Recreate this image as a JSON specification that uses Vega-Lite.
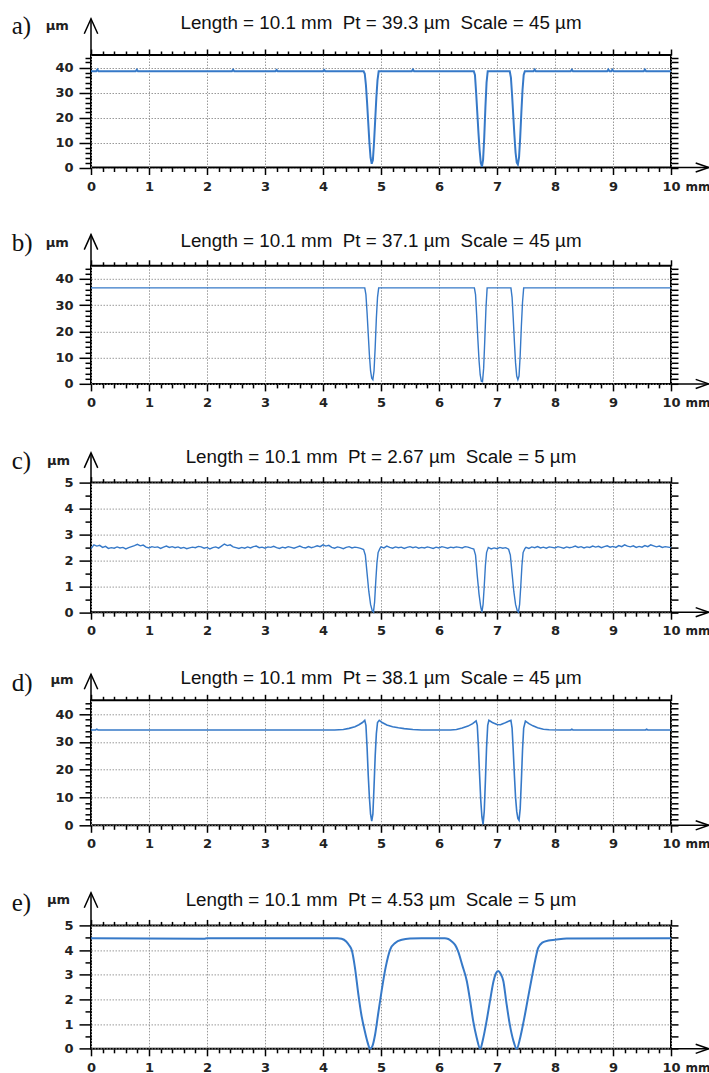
{
"$schema": "https://vega.github.io/schema/vega-lite/v6.json",
"padding": {"left": 10, "top": 12, "right": 0, "bottom": 0},
"autosize": {"type": "pad"},
"config": {
  "view": {"stroke": "#000", "strokeWidth": 2},
  "axis": {"domain": false, "labelFont": "DejaVu Sans", "labelFontWeight": "bold", "labelFontSize": 13, "labelColor": "#222", "tickColor": "#000", "tickWidth": 1.5, "gridColor": "#999", "gridDash": [1.5, 1.5], "gridWidth": 1, "labelOverlap": false, "labelFlush": false},
  "title": {"font": "Liberation Sans", "fontSize": 18.8, "fontWeight": "normal", "color": "#111", "anchor": "middle", "frame": "group"}
},
"datasets": {
  "a": [
    {"x":0,"y":38.5},{"x":0.09,"y":38.5},{"x":0.11,"y":39.2},{"x":0.13,"y":38.5},
    {"x":0.77,"y":38.5},{"x":0.79,"y":39.1},{"x":0.81,"y":38.5},
    {"x":2.43,"y":38.5},{"x":2.45,"y":39.1},{"x":2.47,"y":38.5},
    {"x":3.18,"y":38.5},{"x":3.2,"y":39.0},{"x":3.22,"y":38.5},
    {"x":4.0,"y":38.5},{"x":4.02,"y":39.0},{"x":4.04,"y":38.5},
    {"x":4.7,"y":38.5},{"x":4.72,"y":37.5},{"x":4.74,"y":33},{"x":4.76,"y":26},{"x":4.78,"y":18},{"x":4.8,"y":10},{"x":4.82,"y":4},{"x":4.84,"y":1.5},{"x":4.86,"y":3},{"x":4.88,"y":10},{"x":4.9,"y":19},{"x":4.92,"y":28},{"x":4.94,"y":35},{"x":4.96,"y":38.5},
    {"x":5.53,"y":38.5},{"x":5.55,"y":39.2},{"x":5.57,"y":38.5},
    {"x":6.6,"y":38.5},{"x":6.62,"y":37},{"x":6.64,"y":30},{"x":6.66,"y":22},{"x":6.68,"y":14},{"x":6.7,"y":7},{"x":6.72,"y":2},{"x":6.74,"y":0.3},{"x":6.76,"y":3},{"x":6.78,"y":12},{"x":6.8,"y":24},{"x":6.82,"y":34},{"x":6.84,"y":38.5},
    {"x":7.22,"y":38.5},{"x":7.24,"y":36},{"x":7.26,"y":29},{"x":7.28,"y":21},{"x":7.3,"y":13},{"x":7.32,"y":6},{"x":7.34,"y":2},{"x":7.36,"y":1.2},{"x":7.38,"y":4},{"x":7.4,"y":12},{"x":7.42,"y":22},{"x":7.44,"y":31},{"x":7.46,"y":37},{"x":7.48,"y":38.5},
    {"x":7.63,"y":38.5},{"x":7.65,"y":39.2},{"x":7.67,"y":38.5},
    {"x":8.27,"y":38.5},{"x":8.29,"y":39.1},{"x":8.31,"y":38.5},
    {"x":8.9,"y":38.5},{"x":8.92,"y":39.2},{"x":8.94,"y":38.5},{"x":8.97,"y":38.5},{"x":8.99,"y":39.1},{"x":9.01,"y":38.5},
    {"x":9.53,"y":38.5},{"x":9.55,"y":39.2},{"x":9.57,"y":38.5},
    {"x":10,"y":38.5}
  ],
  "b": [
    {"x":0,"y":36.6},{"x":4.72,"y":36.6},{"x":4.74,"y":34},{"x":4.76,"y":27},{"x":4.78,"y":19},{"x":4.8,"y":11},{"x":4.82,"y":5},{"x":4.84,"y":2.2},{"x":4.86,"y":1.6},{"x":4.88,"y":5},{"x":4.9,"y":14},{"x":4.92,"y":25},{"x":4.94,"y":33},{"x":4.96,"y":36.6},
    {"x":6.61,"y":36.6},{"x":6.63,"y":34},{"x":6.65,"y":26},{"x":6.67,"y":17},{"x":6.69,"y":9},{"x":6.71,"y":3.5},{"x":6.73,"y":1},{"x":6.75,"y":0.8},{"x":6.77,"y":6},{"x":6.79,"y":17},{"x":6.81,"y":29},{"x":6.83,"y":36.6},
    {"x":7.24,"y":36.6},{"x":7.26,"y":33},{"x":7.28,"y":25},{"x":7.3,"y":16},{"x":7.32,"y":8},{"x":7.34,"y":3},{"x":7.36,"y":1.6},{"x":7.38,"y":3},{"x":7.4,"y":11},{"x":7.42,"y":22},{"x":7.44,"y":31},{"x":7.46,"y":36.6},
    {"x":10,"y":36.6}
  ],
  "c": [
    {"x":0,"y":2.45},{"x":0.05,"y":2.6},{"x":0.1,"y":2.55},{"x":0.15,"y":2.58},{"x":0.2,"y":2.5},{"x":0.25,"y":2.54},{"x":0.3,"y":2.46},{"x":0.35,"y":2.49},{"x":0.4,"y":2.47},{"x":0.45,"y":2.52},
    {"x":0.5,"y":2.48},{"x":0.55,"y":2.5},{"x":0.6,"y":2.44},{"x":0.65,"y":2.49},{"x":0.7,"y":2.53},{"x":0.75,"y":2.57},{"x":0.8,"y":2.62},{"x":0.85,"y":2.56},{"x":0.9,"y":2.59},{"x":0.95,"y":2.51},
    {"x":1,"y":2.48},{"x":1.05,"y":2.53},{"x":1.1,"y":2.5},{"x":1.15,"y":2.52},{"x":1.2,"y":2.46},{"x":1.25,"y":2.51},{"x":1.3,"y":2.55},{"x":1.35,"y":2.5},{"x":1.4,"y":2.53},{"x":1.45,"y":2.49},
    {"x":1.5,"y":2.52},{"x":1.55,"y":2.47},{"x":1.6,"y":2.5},{"x":1.65,"y":2.45},{"x":1.7,"y":2.48},{"x":1.75,"y":2.51},{"x":1.8,"y":2.49},{"x":1.85,"y":2.54},{"x":1.9,"y":2.52},{"x":1.95,"y":2.47},
    {"x":2,"y":2.5},{"x":2.05,"y":2.44},{"x":2.1,"y":2.49},{"x":2.15,"y":2.52},{"x":2.2,"y":2.47},{"x":2.25,"y":2.55},{"x":2.3,"y":2.63},{"x":2.35,"y":2.57},{"x":2.4,"y":2.6},{"x":2.45,"y":2.52},
    {"x":2.5,"y":2.49},{"x":2.55,"y":2.46},{"x":2.6,"y":2.5},{"x":2.65,"y":2.47},{"x":2.7,"y":2.52},{"x":2.75,"y":2.48},{"x":2.8,"y":2.53},{"x":2.85,"y":2.55},{"x":2.9,"y":2.49},{"x":2.95,"y":2.51},
    {"x":3,"y":2.47},{"x":3.05,"y":2.52},{"x":3.1,"y":2.5},{"x":3.15,"y":2.54},{"x":3.2,"y":2.49},{"x":3.25,"y":2.46},{"x":3.3,"y":2.51},{"x":3.35,"y":2.48},{"x":3.4,"y":2.53},{"x":3.45,"y":2.5},
    {"x":3.5,"y":2.47},{"x":3.55,"y":2.51},{"x":3.6,"y":2.55},{"x":3.65,"y":2.5},{"x":3.7,"y":2.48},{"x":3.75,"y":2.53},{"x":3.8,"y":2.49},{"x":3.85,"y":2.52},{"x":3.9,"y":2.56},{"x":3.95,"y":2.53},
    {"x":4,"y":2.6},{"x":4.05,"y":2.55},{"x":4.1,"y":2.58},{"x":4.15,"y":2.5},{"x":4.2,"y":2.47},{"x":4.25,"y":2.52},{"x":4.3,"y":2.49},{"x":4.35,"y":2.45},{"x":4.4,"y":2.5},{"x":4.45,"y":2.53},
    {"x":4.5,"y":2.48},{"x":4.55,"y":2.51},{"x":4.6,"y":2.49},{"x":4.65,"y":2.46},{"x":4.7,"y":2.42},
    {"x":4.73,"y":2.2},{"x":4.76,"y":1.5},{"x":4.79,"y":0.8},{"x":4.82,"y":0.3},{"x":4.85,"y":0.05},{"x":4.87,"y":0},{"x":4.89,"y":0.4},{"x":4.91,"y":1.2},{"x":4.93,"y":1.9},{"x":4.95,"y":2.3},{"x":4.98,"y":2.45},
    {"x":5,"y":2.52},{"x":5.05,"y":2.48},{"x":5.1,"y":2.55},{"x":5.15,"y":2.5},{"x":5.2,"y":2.47},{"x":5.25,"y":2.52},{"x":5.3,"y":2.49},{"x":5.35,"y":2.51},{"x":5.4,"y":2.46},{"x":5.45,"y":2.5},
    {"x":5.5,"y":2.53},{"x":5.55,"y":2.49},{"x":5.6,"y":2.52},{"x":5.65,"y":2.47},{"x":5.7,"y":2.5},{"x":5.75,"y":2.48},{"x":5.8,"y":2.52},{"x":5.85,"y":2.49},{"x":5.9,"y":2.46},{"x":5.95,"y":2.51},
    {"x":6,"y":2.48},{"x":6.05,"y":2.53},{"x":6.1,"y":2.5},{"x":6.15,"y":2.47},{"x":6.2,"y":2.51},{"x":6.25,"y":2.49},{"x":6.3,"y":2.52},{"x":6.35,"y":2.5},{"x":6.4,"y":2.48},{"x":6.45,"y":2.53},
    {"x":6.5,"y":2.51},{"x":6.55,"y":2.47},{"x":6.6,"y":2.44},
    {"x":6.63,"y":2.2},{"x":6.66,"y":1.4},{"x":6.69,"y":0.7},{"x":6.72,"y":0.2},{"x":6.74,"y":0},{"x":6.76,"y":0.3},{"x":6.78,"y":1},{"x":6.8,"y":1.8},{"x":6.82,"y":2.3},{"x":6.85,"y":2.5},
    {"x":6.9,"y":2.44},{"x":6.95,"y":2.48},{"x":7,"y":2.45},{"x":7.05,"y":2.5},{"x":7.1,"y":2.47},{"x":7.15,"y":2.49},{"x":7.2,"y":2.43},
    {"x":7.23,"y":2.2},{"x":7.26,"y":1.5},{"x":7.29,"y":0.8},{"x":7.32,"y":0.3},{"x":7.35,"y":0.05},{"x":7.37,"y":0},{"x":7.39,"y":0.3},{"x":7.41,"y":1},{"x":7.43,"y":1.8},{"x":7.45,"y":2.3},{"x":7.48,"y":2.45},
    {"x":7.5,"y":2.5},{"x":7.55,"y":2.46},{"x":7.6,"y":2.52},{"x":7.65,"y":2.49},{"x":7.7,"y":2.53},{"x":7.75,"y":2.48},{"x":7.8,"y":2.51},{"x":7.85,"y":2.47},{"x":7.9,"y":2.52},{"x":7.95,"y":2.5},
    {"x":8,"y":2.48},{"x":8.05,"y":2.53},{"x":8.1,"y":2.5},{"x":8.15,"y":2.47},{"x":8.2,"y":2.52},{"x":8.25,"y":2.49},{"x":8.3,"y":2.51},{"x":8.35,"y":2.55},{"x":8.4,"y":2.5},{"x":8.45,"y":2.53},
    {"x":8.5,"y":2.48},{"x":8.55,"y":2.52},{"x":8.6,"y":2.5},{"x":8.65,"y":2.55},{"x":8.7,"y":2.51},{"x":8.75,"y":2.54},{"x":8.8,"y":2.49},{"x":8.85,"y":2.53},{"x":8.9,"y":2.56},{"x":8.95,"y":2.51},
    {"x":9,"y":2.54},{"x":9.05,"y":2.5},{"x":9.1,"y":2.57},{"x":9.15,"y":2.53},{"x":9.2,"y":2.6},{"x":9.25,"y":2.55},{"x":9.3,"y":2.52},{"x":9.35,"y":2.56},{"x":9.4,"y":2.5},{"x":9.45,"y":2.54},
    {"x":9.5,"y":2.51},{"x":9.55,"y":2.57},{"x":9.6,"y":2.53},{"x":9.65,"y":2.6},{"x":9.7,"y":2.56},{"x":9.75,"y":2.52},{"x":9.8,"y":2.55},{"x":9.85,"y":2.5},{"x":9.9,"y":2.53},{"x":9.95,"y":2.51},{"x":10,"y":2.49}
  ],
  "d": [
    {"x":0,"y":34.3},{"x":0.08,"y":34.3},{"x":0.1,"y":34.6},{"x":0.12,"y":34.3},{"x":4.2,"y":34.3},{"x":4.35,"y":34.5},{"x":4.45,"y":34.9},{"x":4.55,"y":35.5},{"x":4.62,"y":36.2},{"x":4.68,"y":37},{"x":4.72,"y":37.8},
    {"x":4.74,"y":36},{"x":4.76,"y":28},{"x":4.78,"y":18},{"x":4.8,"y":10},{"x":4.82,"y":4},{"x":4.84,"y":1.5},{"x":4.86,"y":4},{"x":4.88,"y":14},{"x":4.9,"y":25},{"x":4.92,"y":33},{"x":4.94,"y":37},{"x":4.97,"y":37.8},
    {"x":5.02,"y":37},{"x":5.1,"y":36.1},{"x":5.2,"y":35.5},{"x":5.3,"y":35.1},{"x":5.4,"y":34.8},{"x":5.55,"y":34.5},{"x":5.7,"y":34.3},{"x":6.2,"y":34.3},{"x":6.3,"y":34.5},{"x":6.4,"y":35},{"x":6.5,"y":35.7},{"x":6.58,"y":36.6},{"x":6.64,"y":37.6},
    {"x":6.66,"y":36},{"x":6.68,"y":28},{"x":6.7,"y":18},{"x":6.72,"y":9},{"x":6.74,"y":3},{"x":6.76,"y":0.3},{"x":6.78,"y":5},{"x":6.8,"y":16},{"x":6.82,"y":28},{"x":6.84,"y":36},{"x":6.86,"y":37.8},
    {"x":6.92,"y":37},{"x":7,"y":36.3},{"x":7.06,"y":36.2},{"x":7.12,"y":36.7},{"x":7.18,"y":37.3},{"x":7.24,"y":37.8},
    {"x":7.26,"y":35},{"x":7.28,"y":27},{"x":7.3,"y":18},{"x":7.32,"y":10},{"x":7.34,"y":5},{"x":7.36,"y":2.5},{"x":7.38,"y":1.8},{"x":7.4,"y":6},{"x":7.42,"y":16},{"x":7.44,"y":27},{"x":7.46,"y":35},{"x":7.49,"y":37.5},
    {"x":7.55,"y":36.6},{"x":7.62,"y":35.8},{"x":7.7,"y":35.1},{"x":7.8,"y":34.6},{"x":7.9,"y":34.4},{"x":8.1,"y":34.3},{"x":8.27,"y":34.3},{"x":8.29,"y":34.6},{"x":8.31,"y":34.3},{"x":9.56,"y":34.3},{"x":9.58,"y":34.6},{"x":9.6,"y":34.3},{"x":10,"y":34.3}
  ],
  "e": [
    {"x":0,"y":4.48},{"x":1.95,"y":4.46},{"x":2.0,"y":4.48},{"x":4.25,"y":4.48},{"x":4.32,"y":4.46},{"x":4.4,"y":4.35},{"x":4.45,"y":4.2},{"x":4.5,"y":3.96},{"x":4.55,"y":3.3},{"x":4.61,"y":2.2},{"x":4.66,"y":1.4},{"x":4.72,"y":0.72},{"x":4.77,"y":0.25},{"x":4.81,"y":0},
    {"x":4.85,"y":0.1},{"x":4.9,"y":0.6},{"x":4.95,"y":1.4},{"x":5.01,"y":2.34},{"x":5.08,"y":3.3},{"x":5.16,"y":4.03},{"x":5.25,"y":4.3},{"x":5.36,"y":4.42},{"x":5.5,"y":4.47},{"x":5.7,"y":4.48},
    {"x":6.1,"y":4.48},{"x":6.16,"y":4.45},{"x":6.22,"y":4.35},{"x":6.28,"y":4.2},{"x":6.33,"y":3.95},{"x":6.4,"y":3.4},{"x":6.48,"y":2.74},{"x":6.54,"y":1.9},{"x":6.59,"y":1.12},{"x":6.65,"y":0.45},{"x":6.71,"y":0},
    {"x":6.76,"y":0.4},{"x":6.82,"y":1.12},{"x":6.88,"y":1.95},{"x":6.94,"y":2.74},{"x":6.98,"y":3.05},{"x":7.02,"y":3.15},{"x":7.06,"y":3.05},{"x":7.11,"y":2.74},{"x":7.16,"y":1.9},{"x":7.22,"y":0.99},{"x":7.28,"y":0.35},{"x":7.34,"y":0},
    {"x":7.4,"y":0.45},{"x":7.46,"y":1.12},{"x":7.53,"y":2},{"x":7.6,"y":2.88},{"x":7.66,"y":3.6},{"x":7.71,"y":4.09},{"x":7.78,"y":4.3},{"x":7.89,"y":4.39},{"x":8,"y":4.42},{"x":8.2,"y":4.47},{"x":10,"y":4.48}
  ]
},
"spacing": 35.8,
"vconcat": [
{
"width": 580, "height": 112.5,
"title": {"text": "Length = 10.1 mm\u00a0 Pt = 39.3 \u00b5m\u00a0 Scale = 45 \u00b5m", "offset": -19.3},
"resolve": {"axis": {"x": "independent", "y": "independent"}},
"layer": [
 {"data": {"name": "a"}, "mark": {"type": "line", "color": "#3679c8", "strokeWidth": 2},
  "encoding": {
   "x": {"field": "x", "type": "quantitative", "scale": {"domain": [0, 10], "nice": false}, "axis": {"orient": "bottom", "values": [0,0.2,0.4,0.6,0.8,1,1.2,1.4,1.6,1.8,2,2.2,2.4,2.6,2.8,3,3.2,3.4,3.6,3.8,4,4.2,4.4,4.6,4.8,5,5.2,5.4,5.6,5.8,6,6.2,6.4,6.6,6.8,7,7.2,7.4,7.6,7.8,8,8.2,8.4,8.6,8.8,9,9.2,9.4,9.6,9.8,10], "tickSize": {"condition": {"test": "abs(datum.value-round(datum.value))<0.01", "value": 7}, "value": 4}, "labelExpr": "abs(datum.value-round(datum.value))<0.01 ? format(datum.value,'.0f') : ''", "labelPadding": 5.5, "grid": true, "gridOpacity": {"condition": {"test": "abs(datum.value-round(datum.value))<0.01", "value": 1}, "value": 0}, "title": "mm", "titleX": 594, "titleY": 13.5, "titleAlign": "left", "titleBaseline": "top", "titleFont": "DejaVu Sans", "titleFontWeight": "bold", "titleFontSize": 12, "titleColor": "#222"}},
   "y": {"field": "y", "type": "quantitative", "scale": {"domain": [0, 45], "nice": false}, "axis": {"orient": "left", "values": [0,2,4,6,8,10,12,14,16,18,20,22,24,26,28,30,32,34,36,38,40,42,44], "tickSize": {"condition": {"test": "datum.value % 10 === 0", "value": 12}, "value": 6}, "labelExpr": "datum.value % 10 === 0 ? format(datum.value,'.0f') : ''", "labelPadding": 6, "grid": true, "gridOpacity": {"condition": {"test": "datum.value % 10 === 0", "value": 1}, "value": 0}, "title": null}}
  }},
 {"data": {"values": [{}]}, "mark": {"type": "rule", "color": "#000", "strokeWidth": 1.5},
  "encoding": {
   "x": {"datum": 0, "type": "quantitative", "scale": {"domain": [0, 10], "nice": false}, "axis": {"orient": "top", "values": [0,0.2,0.4,0.6,0.8,1,1.2,1.4,1.6,1.8,2,2.2,2.4,2.6,2.8,3,3.2,3.4,3.6,3.8,4,4.2,4.4,4.6,4.8,5,5.2,5.4,5.6,5.8,6,6.2,6.4,6.6,6.8,7,7.2,7.4,7.6,7.8,8,8.2,8.4,8.6,8.8,9,9.2,9.4,9.6,9.8,10], "tickSize": {"condition": {"test": "abs(datum.value-round(datum.value))<0.01", "value": 6}, "value": 4}, "labels": false, "grid": false, "title": null}},
   "y": {"datum": 45, "type": "quantitative", "scale": {"domain": [0, 45], "nice": false}, "axis": {"orient": "right", "values": [0,2,4,6,8,10,12,14,16,18,20,22,24,26,28,30,32,34,36,38,40,42,44], "tickSize": 7, "labels": false, "grid": false, "title": null}},
   "y2": {"datum": 59.48}
  }},
 {"data": {"values": [{}]}, "mark": {"type": "point", "shape": "M-0.45,1L0,0L0.45,1", "size": 900, "filled": false, "color": "#000", "strokeWidth": 1.5, "opacity": 1},
  "encoding": {"x": {"datum": 0, "type": "quantitative", "scale": {"domain": [0, 10], "nice": false}, "axis": null}, "y": {"datum": 59.48, "type": "quantitative", "scale": {"domain": [0, 45], "nice": false}, "axis": null}}},
 {"data": {"values": [{}]}, "mark": {"type": "rule", "color": "#000", "strokeWidth": 1.5},
  "encoding": {"x": {"datum": 10, "type": "quantitative", "scale": {"domain": [0, 10], "nice": false}, "axis": null}, "x2": {"datum": 10.65}, "y": {"datum": 0, "type": "quantitative", "scale": {"domain": [0, 45], "nice": false}, "axis": null}}},
 {"data": {"values": [{}]}, "mark": {"type": "point", "shape": "M-1,-0.35L0,0L-1,0.35", "size": 676, "filled": false, "color": "#000", "strokeWidth": 1.5, "opacity": 1},
  "encoding": {"x": {"datum": 10.65, "type": "quantitative", "scale": {"domain": [0, 10], "nice": false}, "axis": null}, "y": {"datum": 0, "type": "quantitative", "scale": {"domain": [0, 45], "nice": false}, "axis": null}}},
 {"data": {"values": [{"unit": "\u00b5m"}]}, "mark": {"type": "text", "font": "DejaVu Sans", "fontWeight": "bold", "fontSize": 13, "color": "#222", "align": "center", "baseline": "middle"},
  "encoding": {"text": {"field": "unit"}, "x": {"datum": -0.58, "type": "quantitative", "scale": {"domain": [0, 10], "nice": false}, "axis": null}, "y": {"datum": 56.68, "type": "quantitative", "scale": {"domain": [0, 45], "nice": false}, "axis": null}}},
 {"data": {"values": [{"panel": "a)"}]}, "mark": {"type": "text", "font": "Liberation Serif", "fontSize": 25, "color": "#111", "align": "left", "baseline": "alphabetic"},
  "encoding": {"text": {"field": "panel"}, "x": {"datum": -1.367, "type": "quantitative", "scale": {"domain": [0, 10], "nice": false}, "axis": null}, "y": {"datum": 53.48, "type": "quantitative", "scale": {"domain": [0, 45], "nice": false}, "axis": null}}}
]
},
{
"width": 580, "height": 118.1,
"title": {"text": "Length = 10.1 mm\u00a0 Pt = 37.1 \u00b5m\u00a0 Scale = 45 \u00b5m", "offset": -19.2},
"resolve": {"axis": {"x": "independent", "y": "independent"}},
"layer": [
 {"data": {"name": "b"}, "mark": {"type": "line", "color": "#3679c8", "strokeWidth": 1.4},
  "encoding": {
   "x": {"field": "x", "type": "quantitative", "scale": {"domain": [0, 10], "nice": false}, "axis": {"orient": "bottom", "values": [0,0.2,0.4,0.6,0.8,1,1.2,1.4,1.6,1.8,2,2.2,2.4,2.6,2.8,3,3.2,3.4,3.6,3.8,4,4.2,4.4,4.6,4.8,5,5.2,5.4,5.6,5.8,6,6.2,6.4,6.6,6.8,7,7.2,7.4,7.6,7.8,8,8.2,8.4,8.6,8.8,9,9.2,9.4,9.6,9.8,10], "tickSize": {"condition": {"test": "abs(datum.value-round(datum.value))<0.01", "value": 7}, "value": 4}, "labelExpr": "abs(datum.value-round(datum.value))<0.01 ? format(datum.value,'.0f') : ''", "labelPadding": 5.5, "grid": true, "gridOpacity": {"condition": {"test": "abs(datum.value-round(datum.value))<0.01", "value": 1}, "value": 0}, "title": "mm", "titleX": 594, "titleY": 13.5, "titleAlign": "left", "titleBaseline": "top", "titleFont": "DejaVu Sans", "titleFontWeight": "bold", "titleFontSize": 12, "titleColor": "#222"}},
   "y": {"field": "y", "type": "quantitative", "scale": {"domain": [0, 45], "nice": false}, "axis": {"orient": "left", "values": [0,2,4,6,8,10,12,14,16,18,20,22,24,26,28,30,32,34,36,38,40,42,44], "tickSize": {"condition": {"test": "datum.value % 10 === 0", "value": 12}, "value": 6}, "labelExpr": "datum.value % 10 === 0 ? format(datum.value,'.0f') : ''", "labelPadding": 6, "grid": true, "gridOpacity": {"condition": {"test": "datum.value % 10 === 0", "value": 1}, "value": 0}, "title": null}}
  }},
 {"data": {"values": [{}]}, "mark": {"type": "rule", "color": "#000", "strokeWidth": 1.5},
  "encoding": {
   "x": {"datum": 0, "type": "quantitative", "scale": {"domain": [0, 10], "nice": false}, "axis": {"orient": "top", "values": [0,0.2,0.4,0.6,0.8,1,1.2,1.4,1.6,1.8,2,2.2,2.4,2.6,2.8,3,3.2,3.4,3.6,3.8,4,4.2,4.4,4.6,4.8,5,5.2,5.4,5.6,5.8,6,6.2,6.4,6.6,6.8,7,7.2,7.4,7.6,7.8,8,8.2,8.4,8.6,8.8,9,9.2,9.4,9.6,9.8,10], "tickSize": {"condition": {"test": "abs(datum.value-round(datum.value))<0.01", "value": 6}, "value": 4}, "labels": false, "grid": false, "title": null}},
   "y": {"datum": 45, "type": "quantitative", "scale": {"domain": [0, 45], "nice": false}, "axis": {"orient": "right", "values": [0,2,4,6,8,10,12,14,16,18,20,22,24,26,28,30,32,34,36,38,40,42,44], "tickSize": 7, "labels": false, "grid": false, "title": null}},
   "y2": {"datum": 56.89}
  }},
 {"data": {"values": [{}]}, "mark": {"type": "point", "shape": "M-0.45,1L0,0L0.45,1", "size": 900, "filled": false, "color": "#000", "strokeWidth": 1.5, "opacity": 1},
  "encoding": {"x": {"datum": 0, "type": "quantitative", "scale": {"domain": [0, 10], "nice": false}, "axis": null}, "y": {"datum": 56.89, "type": "quantitative", "scale": {"domain": [0, 45], "nice": false}, "axis": null}}},
 {"data": {"values": [{}]}, "mark": {"type": "rule", "color": "#000", "strokeWidth": 1.5},
  "encoding": {"x": {"datum": 10, "type": "quantitative", "scale": {"domain": [0, 10], "nice": false}, "axis": null}, "x2": {"datum": 10.65}, "y": {"datum": 0, "type": "quantitative", "scale": {"domain": [0, 45], "nice": false}, "axis": null}}},
 {"data": {"values": [{}]}, "mark": {"type": "point", "shape": "M-1,-0.35L0,0L-1,0.35", "size": 676, "filled": false, "color": "#000", "strokeWidth": 1.5, "opacity": 1},
  "encoding": {"x": {"datum": 10.65, "type": "quantitative", "scale": {"domain": [0, 10], "nice": false}, "axis": null}, "y": {"datum": 0, "type": "quantitative", "scale": {"domain": [0, 45], "nice": false}, "axis": null}}},
 {"data": {"values": [{"unit": "\u00b5m"}]}, "mark": {"type": "text", "font": "DejaVu Sans", "fontWeight": "bold", "fontSize": 13, "color": "#222", "align": "center", "baseline": "middle"},
  "encoding": {"text": {"field": "unit"}, "x": {"datum": -0.58, "type": "quantitative", "scale": {"domain": [0, 10], "nice": false}, "axis": null}, "y": {"datum": 53.84, "type": "quantitative", "scale": {"domain": [0, 45], "nice": false}, "axis": null}}},
 {"data": {"values": [{"panel": "b)"}]}, "mark": {"type": "text", "font": "Liberation Serif", "fontSize": 25, "color": "#111", "align": "left", "baseline": "alphabetic"},
  "encoding": {"text": {"field": "panel"}, "x": {"datum": -1.367, "type": "quantitative", "scale": {"domain": [0, 10], "nice": false}, "axis": null}, "y": {"datum": 50.6, "type": "quantitative", "scale": {"domain": [0, 45], "nice": false}, "axis": null}}}
]
},
{
"spacing": 27.7,
"vconcat": [
{
"width": 580, "height": 129.6,
"title": {"text": "Length = 10.1 mm\u00a0 Pt = 2.67 \u00b5m\u00a0 Scale = 5 \u00b5m", "offset": -18.3},
"resolve": {"axis": {"x": "independent", "y": "independent"}},
"layer": [
 {"data": {"name": "c"}, "mark": {"type": "line", "color": "#3679c8", "strokeWidth": 1.4},
  "encoding": {
   "x": {"field": "x", "type": "quantitative", "scale": {"domain": [0, 10], "nice": false}, "axis": {"orient": "bottom", "values": [0,0.2,0.4,0.6,0.8,1,1.2,1.4,1.6,1.8,2,2.2,2.4,2.6,2.8,3,3.2,3.4,3.6,3.8,4,4.2,4.4,4.6,4.8,5,5.2,5.4,5.6,5.8,6,6.2,6.4,6.6,6.8,7,7.2,7.4,7.6,7.8,8,8.2,8.4,8.6,8.8,9,9.2,9.4,9.6,9.8,10], "tickSize": {"condition": {"test": "abs(datum.value-round(datum.value))<0.01", "value": 7}, "value": 4}, "labelExpr": "abs(datum.value-round(datum.value))<0.01 ? format(datum.value,'.0f') : ''", "labelPadding": 5.5, "grid": true, "gridOpacity": {"condition": {"test": "abs(datum.value-round(datum.value))<0.01", "value": 1}, "value": 0}, "title": "mm", "titleX": 594, "titleY": 13.5, "titleAlign": "left", "titleBaseline": "top", "titleFont": "DejaVu Sans", "titleFontWeight": "bold", "titleFontSize": 12, "titleColor": "#222"}},
   "y": {"field": "y", "type": "quantitative", "scale": {"domain": [0, 5], "nice": false}, "axis": {"orient": "left", "values": [0,0.5,1,1.5,2,2.5,3,3.5,4,4.5,5], "tickSize": {"condition": {"test": "abs(datum.value-round(datum.value))<0.01", "value": 12}, "value": 6}, "labelExpr": "abs(datum.value-round(datum.value))<0.01 ? format(datum.value,'.0f') : ''", "labelPadding": 6, "grid": true, "gridOpacity": {"condition": {"test": "abs(datum.value-round(datum.value))<0.01", "value": 1}, "value": 0}, "title": null}}
  }},
 {"data": {"values": [{}]}, "mark": {"type": "rule", "color": "#000", "strokeWidth": 1.5},
  "encoding": {
   "x": {"datum": 0, "type": "quantitative", "scale": {"domain": [0, 10], "nice": false}, "axis": {"orient": "top", "values": [0,0.2,0.4,0.6,0.8,1,1.2,1.4,1.6,1.8,2,2.2,2.4,2.6,2.8,3,3.2,3.4,3.6,3.8,4,4.2,4.4,4.6,4.8,5,5.2,5.4,5.6,5.8,6,6.2,6.4,6.6,6.8,7,7.2,7.4,7.6,7.8,8,8.2,8.4,8.6,8.8,9,9.2,9.4,9.6,9.8,10], "tickSize": {"condition": {"test": "abs(datum.value-round(datum.value))<0.01", "value": 6}, "value": 4}, "labels": false, "grid": false, "title": null}},
   "y": {"datum": 5, "type": "quantitative", "scale": {"domain": [0, 5], "nice": false}, "axis": {"orient": "right", "values": [0,0.5,1,1.5,2,2.5,3,3.5,4,4.5,5], "tickSize": 7, "labels": false, "grid": false, "title": null}},
   "y2": {"datum": 6.146}
  }},
 {"data": {"values": [{}]}, "mark": {"type": "point", "shape": "M-0.45,1L0,0L0.45,1", "size": 900, "filled": false, "color": "#000", "strokeWidth": 1.5, "opacity": 1},
  "encoding": {"x": {"datum": 0, "type": "quantitative", "scale": {"domain": [0, 10], "nice": false}, "axis": null}, "y": {"datum": 6.146, "type": "quantitative", "scale": {"domain": [0, 5], "nice": false}, "axis": null}}},
 {"data": {"values": [{}]}, "mark": {"type": "rule", "color": "#000", "strokeWidth": 1.5},
  "encoding": {"x": {"datum": 10, "type": "quantitative", "scale": {"domain": [0, 10], "nice": false}, "axis": null}, "x2": {"datum": 10.65}, "y": {"datum": 0, "type": "quantitative", "scale": {"domain": [0, 5], "nice": false}, "axis": null}}},
 {"data": {"values": [{}]}, "mark": {"type": "point", "shape": "M-1,-0.35L0,0L-1,0.35", "size": 676, "filled": false, "color": "#000", "strokeWidth": 1.5, "opacity": 1},
  "encoding": {"x": {"datum": 10.65, "type": "quantitative", "scale": {"domain": [0, 10], "nice": false}, "axis": null}, "y": {"datum": 0, "type": "quantitative", "scale": {"domain": [0, 5], "nice": false}, "axis": null}}},
 {"data": {"values": [{"unit": "\u00b5m"}]}, "mark": {"type": "text", "font": "DejaVu Sans", "fontWeight": "bold", "fontSize": 13, "color": "#222", "align": "center", "baseline": "middle"},
  "encoding": {"text": {"field": "unit"}, "x": {"datum": -0.56, "type": "quantitative", "scale": {"domain": [0, 10], "nice": false}, "axis": null}, "y": {"datum": 5.849, "type": "quantitative", "scale": {"domain": [0, 5], "nice": false}, "axis": null}}},
 {"data": {"values": [{"panel": "c)"}]}, "mark": {"type": "text", "font": "Liberation Serif", "fontSize": 25, "color": "#111", "align": "left", "baseline": "alphabetic"},
  "encoding": {"text": {"field": "panel"}, "x": {"datum": -1.367, "type": "quantitative", "scale": {"domain": [0, 10], "nice": false}, "axis": null}, "y": {"datum": 5.532, "type": "quantitative", "scale": {"domain": [0, 5], "nice": false}, "axis": null}}}
]
},
{
"width": 580, "height": 125,
"title": {"text": "Length = 10.1 mm\u00a0 Pt = 38.1 \u00b5m\u00a0 Scale = 45 \u00b5m", "offset": -16.6},
"resolve": {"axis": {"x": "independent", "y": "independent"}},
"layer": [
 {"data": {"name": "d"}, "mark": {"type": "line", "color": "#3679c8", "strokeWidth": 1.6},
  "encoding": {
   "x": {"field": "x", "type": "quantitative", "scale": {"domain": [0, 10], "nice": false}, "axis": {"orient": "bottom", "values": [0,0.2,0.4,0.6,0.8,1,1.2,1.4,1.6,1.8,2,2.2,2.4,2.6,2.8,3,3.2,3.4,3.6,3.8,4,4.2,4.4,4.6,4.8,5,5.2,5.4,5.6,5.8,6,6.2,6.4,6.6,6.8,7,7.2,7.4,7.6,7.8,8,8.2,8.4,8.6,8.8,9,9.2,9.4,9.6,9.8,10], "tickSize": {"condition": {"test": "abs(datum.value-round(datum.value))<0.01", "value": 7}, "value": 4}, "labelExpr": "abs(datum.value-round(datum.value))<0.01 ? format(datum.value,'.0f') : ''", "labelPadding": 5.5, "grid": true, "gridOpacity": {"condition": {"test": "abs(datum.value-round(datum.value))<0.01", "value": 1}, "value": 0}, "title": "mm", "titleX": 594, "titleY": 13.5, "titleAlign": "left", "titleBaseline": "top", "titleFont": "DejaVu Sans", "titleFontWeight": "bold", "titleFontSize": 12, "titleColor": "#222"}},
   "y": {"field": "y", "type": "quantitative", "scale": {"domain": [0, 45], "nice": false}, "axis": {"orient": "left", "values": [0,2,4,6,8,10,12,14,16,18,20,22,24,26,28,30,32,34,36,38,40,42,44], "tickSize": {"condition": {"test": "datum.value % 10 === 0", "value": 12}, "value": 6}, "labelExpr": "datum.value % 10 === 0 ? format(datum.value,'.0f') : ''", "labelPadding": 6, "grid": true, "gridOpacity": {"condition": {"test": "datum.value % 10 === 0", "value": 1}, "value": 0}, "title": null}}
  }},
 {"data": {"values": [{}]}, "mark": {"type": "rule", "color": "#000", "strokeWidth": 1.5},
  "encoding": {
   "x": {"datum": 0, "type": "quantitative", "scale": {"domain": [0, 10], "nice": false}, "axis": {"orient": "top", "values": [0,0.2,0.4,0.6,0.8,1,1.2,1.4,1.6,1.8,2,2.2,2.4,2.6,2.8,3,3.2,3.4,3.6,3.8,4,4.2,4.4,4.6,4.8,5,5.2,5.4,5.6,5.8,6,6.2,6.4,6.6,6.8,7,7.2,7.4,7.6,7.8,8,8.2,8.4,8.6,8.8,9,9.2,9.4,9.6,9.8,10], "tickSize": {"condition": {"test": "abs(datum.value-round(datum.value))<0.01", "value": 6}, "value": 4}, "labels": false, "grid": false, "title": null}},
   "y": {"datum": 45, "type": "quantitative", "scale": {"domain": [0, 45], "nice": false}, "axis": {"orient": "right", "values": [0,2,4,6,8,10,12,14,16,18,20,22,24,26,28,30,32,34,36,38,40,42,44], "tickSize": 7, "labels": false, "grid": false, "title": null}},
   "y2": {"datum": 54.36}
  }},
 {"data": {"values": [{}]}, "mark": {"type": "point", "shape": "M-0.45,1L0,0L0.45,1", "size": 900, "filled": false, "color": "#000", "strokeWidth": 1.5, "opacity": 1},
  "encoding": {"x": {"datum": 0, "type": "quantitative", "scale": {"domain": [0, 10], "nice": false}, "axis": null}, "y": {"datum": 54.36, "type": "quantitative", "scale": {"domain": [0, 45], "nice": false}, "axis": null}}},
 {"data": {"values": [{}]}, "mark": {"type": "rule", "color": "#000", "strokeWidth": 1.5},
  "encoding": {"x": {"datum": 10, "type": "quantitative", "scale": {"domain": [0, 10], "nice": false}, "axis": null}, "x2": {"datum": 10.65}, "y": {"datum": 0, "type": "quantitative", "scale": {"domain": [0, 45], "nice": false}, "axis": null}}},
 {"data": {"values": [{}]}, "mark": {"type": "point", "shape": "M-1,-0.35L0,0L-1,0.35", "size": 676, "filled": false, "color": "#000", "strokeWidth": 1.5, "opacity": 1},
  "encoding": {"x": {"datum": 10.65, "type": "quantitative", "scale": {"domain": [0, 10], "nice": false}, "axis": null}, "y": {"datum": 0, "type": "quantitative", "scale": {"domain": [0, 45], "nice": false}, "axis": null}}},
 {"data": {"values": [{"unit": "\u00b5m"}]}, "mark": {"type": "text", "font": "DejaVu Sans", "fontWeight": "bold", "fontSize": 13, "color": "#222", "align": "center", "baseline": "middle"},
  "encoding": {"text": {"field": "unit"}, "x": {"datum": -0.5, "type": "quantitative", "scale": {"domain": [0, 10], "nice": false}, "axis": null}, "y": {"datum": 52.2, "type": "quantitative", "scale": {"domain": [0, 45], "nice": false}, "axis": null}}},
 {"data": {"values": [{"panel": "d)"}]}, "mark": {"type": "text", "font": "Liberation Serif", "fontSize": 25, "color": "#111", "align": "left", "baseline": "alphabetic"},
  "encoding": {"text": {"field": "panel"}, "x": {"datum": -1.367, "type": "quantitative", "scale": {"domain": [0, 10], "nice": false}, "axis": null}, "y": {"datum": 48.35, "type": "quantitative", "scale": {"domain": [0, 45], "nice": false}, "axis": null}}}
]
}
]
},
{
"width": 580, "height": 123.4,
"title": {"text": "Length = 10.1 mm\u00a0 Pt = 4.53 \u00b5m\u00a0 Scale = 5 \u00b5m", "offset": -20},
"resolve": {"axis": {"x": "independent", "y": "independent"}},
"layer": [
 {"data": {"name": "e"}, "mark": {"type": "line", "color": "#3679c8", "strokeWidth": 2, "interpolate": "monotone"},
  "encoding": {
   "x": {"field": "x", "type": "quantitative", "scale": {"domain": [0, 10], "nice": false}, "axis": {"orient": "bottom", "values": [0,0.2,0.4,0.6,0.8,1,1.2,1.4,1.6,1.8,2,2.2,2.4,2.6,2.8,3,3.2,3.4,3.6,3.8,4,4.2,4.4,4.6,4.8,5,5.2,5.4,5.6,5.8,6,6.2,6.4,6.6,6.8,7,7.2,7.4,7.6,7.8,8,8.2,8.4,8.6,8.8,9,9.2,9.4,9.6,9.8,10], "tickSize": {"condition": {"test": "abs(datum.value-round(datum.value))<0.01", "value": 7}, "value": 4}, "labelExpr": "abs(datum.value-round(datum.value))<0.01 ? format(datum.value,'.0f') : ''", "labelPadding": 5.5, "grid": true, "gridOpacity": {"condition": {"test": "abs(datum.value-round(datum.value))<0.01", "value": 1}, "value": 0}, "title": "mm", "titleX": 594, "titleY": 13.5, "titleAlign": "left", "titleBaseline": "top", "titleFont": "DejaVu Sans", "titleFontWeight": "bold", "titleFontSize": 12, "titleColor": "#222"}},
   "y": {"field": "y", "type": "quantitative", "scale": {"domain": [0, 5], "nice": false}, "axis": {"orient": "left", "values": [0,0.5,1,1.5,2,2.5,3,3.5,4,4.5,5], "tickSize": {"condition": {"test": "abs(datum.value-round(datum.value))<0.01", "value": 12}, "value": 6}, "labelExpr": "abs(datum.value-round(datum.value))<0.01 ? format(datum.value,'.0f') : ''", "labelPadding": 6, "grid": true, "gridOpacity": {"condition": {"test": "abs(datum.value-round(datum.value))<0.01", "value": 1}, "value": 0}, "title": null}}
  }},
 {"data": {"values": [{}]}, "mark": {"type": "rule", "color": "#000", "strokeWidth": 1.5},
  "encoding": {
   "x": {"datum": 0, "type": "quantitative", "scale": {"domain": [0, 10], "nice": false}, "axis": {"orient": "top", "values": [0,0.2,0.4,0.6,0.8,1,1.2,1.4,1.6,1.8,2,2.2,2.4,2.6,2.8,3,3.2,3.4,3.6,3.8,4,4.2,4.4,4.6,4.8,5,5.2,5.4,5.6,5.8,6,6.2,6.4,6.6,6.8,7,7.2,7.4,7.6,7.8,8,8.2,8.4,8.6,8.8,9,9.2,9.4,9.6,9.8,10], "tickSize": {"condition": {"test": "abs(datum.value-round(datum.value))<0.01", "value": 6}, "value": 4}, "labels": false, "grid": false, "title": null}},
   "y": {"datum": 5, "type": "quantitative", "scale": {"domain": [0, 5], "nice": false}, "axis": {"orient": "right", "values": [0,0.5,1,1.5,2,2.5,3,3.5,4,4.5,5], "tickSize": 7, "labels": false, "grid": false, "title": null}},
   "y2": {"datum": 6.321}
  }},
 {"data": {"values": [{}]}, "mark": {"type": "point", "shape": "M-0.45,1L0,0L0.45,1", "size": 900, "filled": false, "color": "#000", "strokeWidth": 1.5, "opacity": 1},
  "encoding": {"x": {"datum": 0, "type": "quantitative", "scale": {"domain": [0, 10], "nice": false}, "axis": null}, "y": {"datum": 6.321, "type": "quantitative", "scale": {"domain": [0, 5], "nice": false}, "axis": null}}},
 {"data": {"values": [{}]}, "mark": {"type": "rule", "color": "#000", "strokeWidth": 1.5},
  "encoding": {"x": {"datum": 10, "type": "quantitative", "scale": {"domain": [0, 10], "nice": false}, "axis": null}, "x2": {"datum": 10.65}, "y": {"datum": 0, "type": "quantitative", "scale": {"domain": [0, 5], "nice": false}, "axis": null}}},
 {"data": {"values": [{}]}, "mark": {"type": "point", "shape": "M-1,-0.35L0,0L-1,0.35", "size": 676, "filled": false, "color": "#000", "strokeWidth": 1.5, "opacity": 1},
  "encoding": {"x": {"datum": 10.65, "type": "quantitative", "scale": {"domain": [0, 10], "nice": false}, "axis": null}, "y": {"datum": 0, "type": "quantitative", "scale": {"domain": [0, 5], "nice": false}, "axis": null}}},
 {"data": {"values": [{"unit": "\u00b5m"}]}, "mark": {"type": "text", "font": "DejaVu Sans", "fontWeight": "bold", "fontSize": 13, "color": "#222", "align": "center", "baseline": "middle"},
  "encoding": {"text": {"field": "unit"}, "x": {"datum": -0.56, "type": "quantitative", "scale": {"domain": [0, 10], "nice": false}, "axis": null}, "y": {"datum": 6.013, "type": "quantitative", "scale": {"domain": [0, 5], "nice": false}, "axis": null}}},
 {"data": {"values": [{"panel": "e)"}]}, "mark": {"type": "text", "font": "Liberation Serif", "fontSize": 25, "color": "#111", "align": "left", "baseline": "alphabetic"},
  "encoding": {"text": {"field": "panel"}, "x": {"datum": -1.367, "type": "quantitative", "scale": {"domain": [0, 10], "nice": false}, "axis": null}, "y": {"datum": 5.596, "type": "quantitative", "scale": {"domain": [0, 5], "nice": false}, "axis": null}}}
]
}
]
}
